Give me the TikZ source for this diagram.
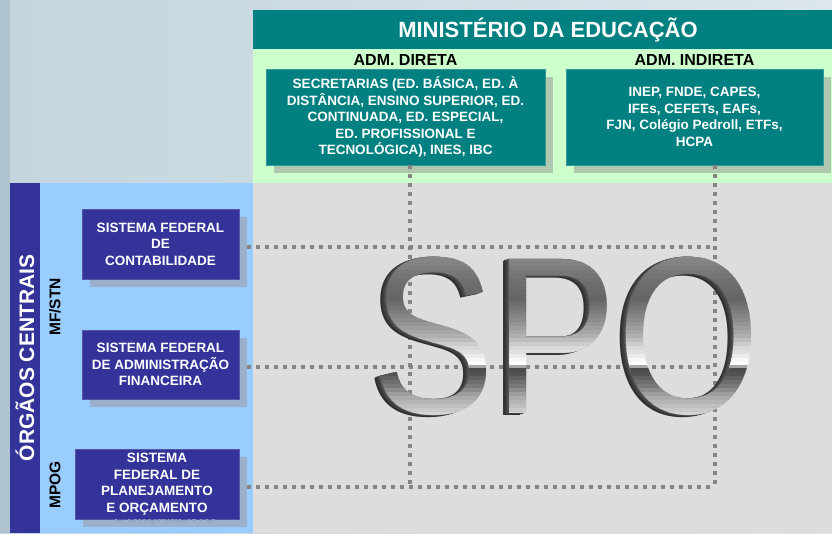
\documentclass[tikz,border=0pt]{standalone}
\usepackage{fontspec}
\setmainfont{Liberation Sans}[BoldFont={Liberation Sans Bold}]
\newfontfamily\spofamily{Liberation Sans}
\usetikzlibrary{positioning, shadows}
\definecolor{tealBar}   {HTML}{008080}
\definecolor{mintPanel} {HTML}{CCFFCC}
\definecolor{skyPanel}  {HTML}{99CCFF}
\definecolor{navyBox}   {HTML}{333399}
\definecolor{navyEdge}  {HTML}{5555AA}
\definecolor{greyPanel} {HTML}{DDDDDD}
\definecolor{dotGrey}   {HTML}{858585}
\definecolor{shadowMint}{HTML}{B0C7AF}
\definecolor{shadowSky} {HTML}{9BB0CA}
\definecolor{ghostSky}  {HTML}{8EA4C0}
\definecolor{slideEdge} {HTML}{AFC4CE}
\definecolor{slideLeft} {HTML}{C3D5DD}
\definecolor{slideRight}{HTML}{DCE6EC}
\newcommand{\spofont}{\spofamily\fontsize{224}{224}\selectfont}
\newcommand{\boxfont}{\fontsize{13.5}{16.5}\selectfont\bfseries}
\newcommand{\spoword}{\scalebox{.82}[1]{SPO}}

\begin{document}
\begin{tikzpicture}[
    x=1pt, y=-1pt,
    tealbox/.style={fill=tealBar, draw=tealBar!80!white, text=white, font=\boxfont,
                    align=center, inner sep=2pt,
                    drop shadow={shadow xshift=8pt, shadow yshift=-8pt, fill=shadowMint, opacity=1}},
    navybox/.style={fill=navyBox, draw=navyEdge, text=white, font=\boxfont,
                    align=center, inner sep=2pt,
                    drop shadow={shadow xshift=8pt, shadow yshift=-8pt, fill=shadowSky, opacity=1}},
    admlabel/.style={font=\fontsize{16}{18}\selectfont\bfseries, inner sep=2pt},
    sidelabel/.style={font=\fontsize{15.5}{17}\selectfont\bfseries, rotate=90, inner sep=0pt},
    dots/.style={draw=dotGrey, line width=4pt, dash pattern=on 4pt off 5pt},
    spoText/.style={font=\spofont, inner sep=0pt, anchor=base west},
  ]
    % slide background and panels
    \shade[left color=slideLeft, right color=slideRight] (0,0) rectangle (832,533);
    \fill[slideEdge] (0,0) rectangle (10,533);
    \fill[tealBar] (253,10) rectangle (832,49);
    \fill[mintPanel] (253,49) rectangle (832,183);
    \fill[greyPanel] (253,183) rectangle (832,533);
    \fill[skyPanel] (10,183) rectangle (253,533);

    \node[font=\fontsize{22}{24}\selectfont\bfseries, text=white] (mec) at (548,30) {MINISTÉRIO DA EDUCAÇÃO};

    \node[tealbox, minimum width=279pt, minimum height=96pt] (diretaBox) at (405.5,117)
      {SECRETARIAS (ED. BÁSICA, ED. À\\DISTÂNCIA, ENSINO SUPERIOR, ED.\\CONTINUADA, ED. ESPECIAL,\\ED. PROFISSIONAL E\\TECNOLÓGICA), INES, IBC};
    \node[tealbox, minimum width=257pt, minimum height=96pt] (indiretaBox) at (694.5,117)
      {INEP, FNDE, CAPES,\\IFEs, CEFETs, EAFs,\\FJN, Colégio Pedroll, ETFs,\\HCPA};
    \node[admlabel, above=1pt of diretaBox] (direta) {ADM. DIRETA};
    \node[admlabel, above=1pt of indiretaBox] (indireta) {ADM. INDIRETA};

    % orgaos centrais
    \node[fill=navyBox, text=white, rotate=90, minimum width=350pt, minimum height=30pt,
          inner sep=0pt, font=\fontsize{21}{23}\selectfont\bfseries] (orgaos) at (25,358) {ÓRGÃOS CENTRAIS};
    \node[sidelabel] (mfstn) at (55,307) {MF/STN};
    \node[sidelabel] (mpog) at (55,485) {MPOG};

    \node[navybox, minimum width=157pt, minimum height=70pt] (contabBox) at (160.5,244)
      {SISTEMA FEDERAL\\DE\\CONTABILIDADE};
    \node[navybox, minimum width=157pt, minimum height=69pt] (finBox) at (160.5,364.5)
      {SISTEMA FEDERAL\\DE ADMINISTRAÇÃO\\FINANCEIRA};
    \node[navybox, minimum width=164pt, minimum height=70pt] (planBox) at (157,484)
      {SISTEMA\\FEDERAL DE\\PLANEJAMENTO\\E ORÇAMENTO};
    \begin{scope}
      \clip ([xshift=8pt]planBox.south west) rectangle ([shift={(8,8)}]planBox.south east);
      \node[font=\boxfont, text=ghostSky] (planGhost) at (165,519.5) {E ORÇAMENTO};
    \end{scope}

    % dotted links
    \coordinate (dirFoot) at ([xshift=4.5pt]diretaBox.south |- planBox.east);
    \coordinate (indFoot) at ([xshift=20.5pt]indiretaBox.south |- planBox.east);
    \coordinate (contabTap) at ([shift={(8,3)}]contabBox.east);
    \coordinate (finTap) at ([shift={(8,2.5)}]finBox.east);
    \coordinate (planTap) at ([shift={(8,3)}]planBox.east);
    \draw[dots] ([xshift=4.5pt]diretaBox.south) -- ([yshift=-3pt]dirFoot);
    \draw[dots] ([xshift=20.5pt]indiretaBox.south) -- ([yshift=-3pt]indFoot);
    \draw[dots] (contabTap) -- (contabTap -| indFoot);
    \draw[dots] (finTap) -- (finTap -| indFoot);
    \draw[dots] (planTap) -- (planTap -| indFoot);

    % chrome letters: dark extrusion, then the face in horizontal bands
    \foreach \k/\c in {6/82,5/80,4/77,3/74,2/70,1/66}
      \node[spoText, text=black!\c] (spoDepth\k) at (372-\k,413+0.35*\k) {\spoword};
    \foreach \t/\c in {240/45,254/46,258/48,262/49,266/51,270/53,274/54,278/56,282/57,286/58,
                       290/59,294/60,298/60,302/57,306/54,310/51,314/48,318/45,322/41,326/38,
                       330/35,334/31,338/26,342/20,346/15,350/12,354/8,358/3,362/0,365/35,
                       368/70,372/68,376/62,380/57,384/52,388/45,392/38,396/33,400/29,404/25,
                       408/21,412/17}
    {
      \begin{scope}
        \clip (360,\t) rectangle (780,\t+4.2);
        \node[spoText, text=black!\c] (spoBand\t) at (372,413) {\spoword};
      \end{scope}
    }
    \begin{scope}
      \clip (360,416) rectangle (780,430);
      \node[spoText, text=black!16] (spoFoot) at (372,413) {\spoword};
    \end{scope}
\end{tikzpicture}
\end{document}
